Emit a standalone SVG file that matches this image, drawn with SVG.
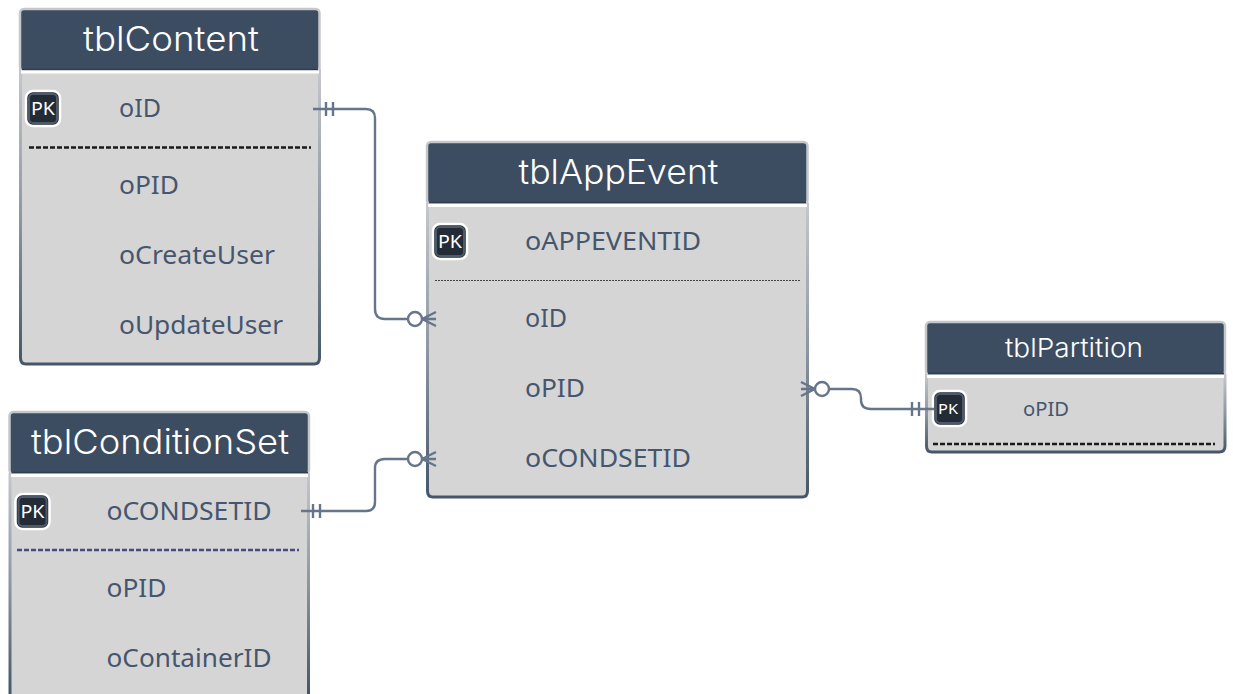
<svg xmlns="http://www.w3.org/2000/svg" width="1233" height="694" viewBox="0 0 1233 694">
<defs>
<linearGradient id="edge" x1="0" y1="0" x2="0" y2="1"><stop offset="0" stop-color="#c4c7cb"/><stop offset="0.5" stop-color="#8d96a1"/><stop offset="1" stop-color="#46566a"/></linearGradient>
</defs>
<style>
.body{fill:#d5d5d5;stroke:url(#edge);stroke-width:3}
.head{fill:#3c4d62;stroke:#c5c8cb;stroke-width:2.5}
.hl{fill:none;stroke:#2f3d4f;stroke-width:1.5}
.sep{stroke:#fff;stroke-width:3}
.t{font-family:"Inter","Noto Sans",sans-serif;font-weight:300;fill:#fff;text-anchor:middle}
.f{font-family:"Noto Sans","Liberation Sans",sans-serif;fill:#45566e;font-size:25px}
.pkb{fill:#232b36;stroke:#fff;stroke-width:2.5}
.pki{fill:none;stroke:#4c5a6a;stroke-width:2}
.pk{font-family:"Noto Sans","Liberation Sans",sans-serif;fill:#fff;text-anchor:middle}
.d{stroke:#1a1a1a;stroke-width:2.4;stroke-dasharray:5 2}
.c{fill:none;stroke:#66758a;stroke-width:2.4}
.o{fill:#fff;stroke:#66758a;stroke-width:2.4}
</style>
<g id="tblContent">
<path class="body" d="M20.500 70V358Q20.500 364 26 364H314Q319.500 364 319.500 358V70Z"/>
<rect class="head" x="20" y="9" width="299.500" height="62" rx="4"/>
<path class="hl" d="M22 69.500H318"/>
<path class="sep" d="M21 72H319"/>
<text class="t" x="171" y="51" font-size="34" textLength="176" lengthAdjust="spacingAndGlyphs">tblContent</text>
<rect class="pkb" x="26" y="91" width="34" height="35" rx="7"/><rect class="pki" x="29" y="94" width="28" height="29" rx="4"/>
<text class="pk" x="43" y="115" font-size="18" textLength="24" lengthAdjust="spacingAndGlyphs">PK</text>
<text class="f" x="119" y="117" textLength="42" lengthAdjust="spacingAndGlyphs">oID</text>
<path class="d" d="M29 147.500H311"/>
<text class="f" x="119" y="194" textLength="60" lengthAdjust="spacingAndGlyphs">oPID</text>
<text class="f" x="119" y="264" textLength="156" lengthAdjust="spacingAndGlyphs">oCreateUser</text>
<text class="f" x="119" y="334" textLength="164" lengthAdjust="spacingAndGlyphs">oUpdateUser</text>
</g>
<g id="tblConditionSet">
<rect x="10" y="473" width="298.500" height="221" fill="#d5d5d5"/>
<path class="body" d="M10 473V694M308.500 473V694" fill="none"/>
<rect class="head" x="9.500" y="412" width="299.500" height="62" rx="4"/>
<path class="hl" d="M11.500 472.500H308"/>
<path class="sep" d="M11 475.500H308"/>
<text class="t" x="160" y="454" font-size="34" textLength="258" lengthAdjust="spacingAndGlyphs">tblConditionSet</text>
<rect class="pkb" x="15.500" y="494" width="34" height="35" rx="7"/><rect class="pki" x="18.500" y="497" width="28" height="29" rx="4"/>
<text class="pk" x="32.500" y="518" font-size="18" textLength="24" lengthAdjust="spacingAndGlyphs">PK</text>
<text class="f" x="106.500" y="520" textLength="165" lengthAdjust="spacingAndGlyphs">oCONDSETID</text>
<path class="d" style="stroke:#4a4a80" d="M17 550H299"/>
<text class="f" x="106.500" y="597" textLength="60" lengthAdjust="spacingAndGlyphs">oPID</text>
<text class="f" x="106.500" y="667" textLength="165" lengthAdjust="spacingAndGlyphs">oContainerID</text>
</g>
<g id="tblAppEvent">
<path class="body" d="M427.500 204V491Q427.500 497 433 497H802Q807.500 497 807.500 491V204Z"/>
<rect class="head" x="427" y="142" width="380.500" height="62" rx="4"/>
<path class="hl" d="M429 202.500H806"/>
<path class="sep" d="M428 205.500H807"/>
<text class="t" x="618.500" y="184" font-size="34" textLength="200" lengthAdjust="spacingAndGlyphs">tblAppEvent</text>
<rect class="pkb" x="433" y="224" width="34" height="35" rx="7"/><rect class="pki" x="436" y="227" width="28" height="29" rx="4"/>
<text class="pk" x="450" y="248" font-size="18" textLength="24" lengthAdjust="spacingAndGlyphs">PK</text>
<text class="f" x="525" y="250" textLength="176" lengthAdjust="spacingAndGlyphs">oAPPEVENTID</text>
<path d="M435 280.500H801" stroke="#444" stroke-width="1" stroke-dasharray="2 1"/>
<text class="f" x="525" y="327" textLength="42" lengthAdjust="spacingAndGlyphs">oID</text>
<text class="f" x="525" y="397" textLength="60" lengthAdjust="spacingAndGlyphs">oPID</text>
<text class="f" x="525" y="467" textLength="166" lengthAdjust="spacingAndGlyphs">oCONDSETID</text>
</g>
<g id="tblPartition">
<path class="body" d="M926.500 375V446Q926.500 452 932 452H1219Q1225 452 1225 446V375Z"/>
<rect class="head" x="926" y="322" width="299" height="53" rx="4"/>
<path class="hl" d="M928 373.500H1224"/>
<path class="sep" d="M927 376.500H1224"/>
<text class="t" x="1074" y="357" font-size="26" textLength="138" lengthAdjust="spacingAndGlyphs">tblPartition</text>
<rect class="pkb" x="933" y="391" width="33" height="35" rx="7"/><rect class="pki" x="936" y="394" width="27" height="29" rx="4"/>
<text class="pk" x="948" y="414" font-size="15" textLength="20" lengthAdjust="spacingAndGlyphs">PK</text>
<text class="f" style="font-size:20px" x="1023" y="416" textLength="46" lengthAdjust="spacingAndGlyphs">oPID</text>
<path class="d" d="M933 444H1215"/>
</g>
<g id="connectors">
<path class="c" d="M313 109H366Q375 109 375 118V309Q375 319 385 319H408"/>
<path class="c" d="M326 102V116M333 102V116"/>
<circle class="o" cx="415" cy="319" r="7"/>
<path class="c" d="M422 319H436M422 319L436 312M422 319L436 326"/>
<path class="c" d="M301 511H366Q375 511 375 502V468Q375 459 385 459H408"/>
<path class="c" d="M313 504V518M320 504V518"/>
<circle class="o" cx="415" cy="459" r="7"/>
<path class="c" d="M422 459H436M422 459L436 452M422 459L436 466"/>
<path class="c" d="M829 389H852Q861 389 861 398V400Q861 409 871 409H934"/>
<path class="c" d="M912 402V416M919 402V416"/>
<circle class="o" cx="822" cy="389" r="7"/>
<path class="c" d="M815 389H801M815 389L801 382M815 389L801 396"/>
</g>
</svg>
